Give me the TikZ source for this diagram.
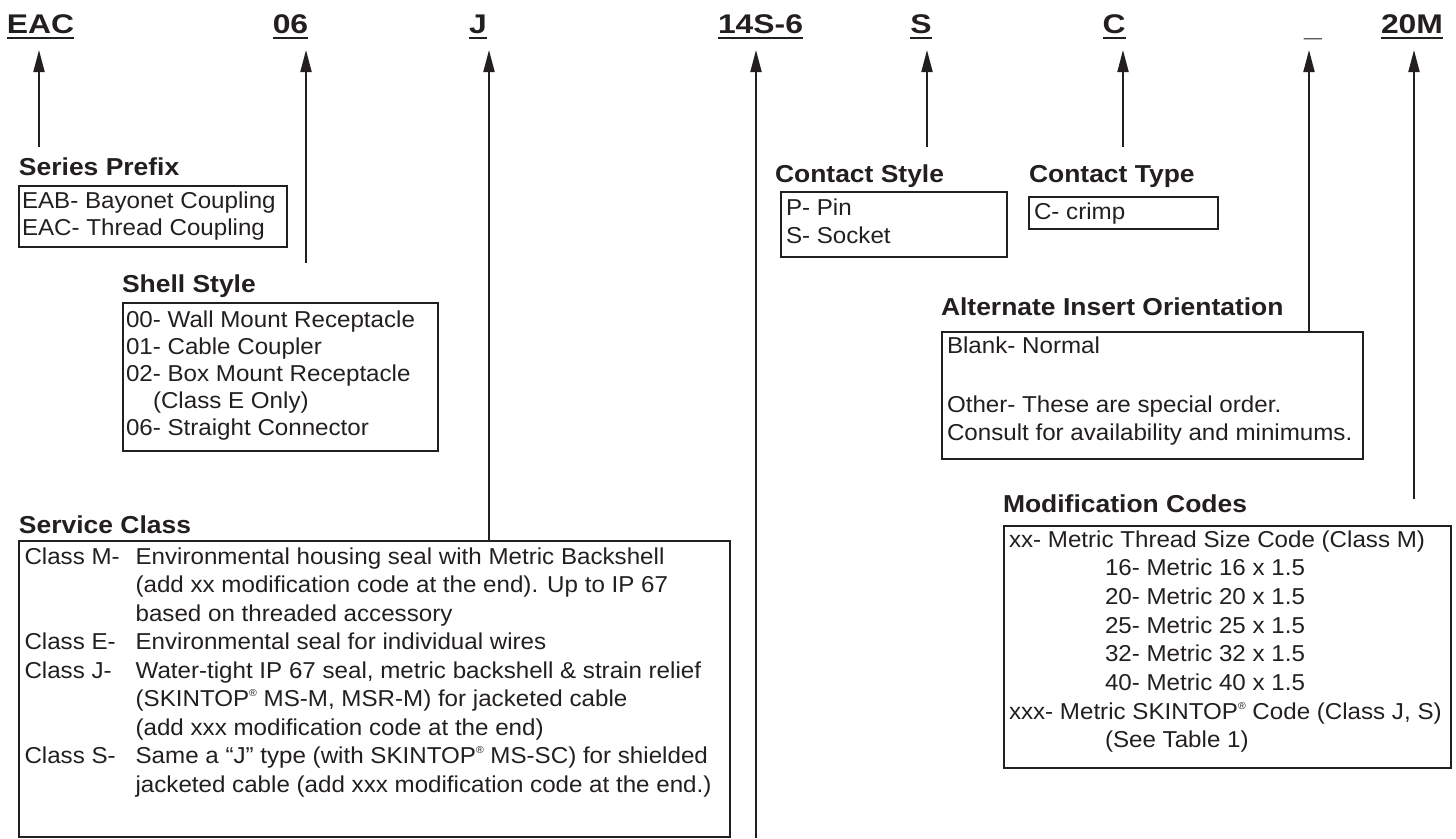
\documentclass[tikz,border=0pt]{standalone}
\usepackage{fontspec}
\setmainfont[FakeStretch=1.05]{Liberation Sans}
\newfontfamily\headfam[FakeStretch=1.08]{Liberation Sans}
\newfontfamily\lblfam[FakeStretch=1.18]{Liberation Sans}
\usetikzlibrary{arrows.meta}
\definecolor{ink}{RGB}{35,31,32}
\newcommand\regm{\raisebox{0.42em}{\fontsize{10}{10}\selectfont ®}}
\tikzset{
 txt/.style={inner sep=0pt, outer sep=0pt, anchor=base west, text=ink, font=\fontsize{23}{27}\selectfont},
 head/.style={inner sep=0pt, outer sep=0pt, anchor=base west, text=ink, font=\headfam\fontsize{24.5}{29}\selectfont\bfseries},
 lbl/.style={inner sep=0pt, outer sep=0pt, anchor=base, text=ink, font=\lblfam\fontsize{27}{31}\selectfont\bfseries},
 box/.style={draw=ink, line width=2pt, inner sep=0pt, outer sep=0pt, anchor=north west},
 arr/.style={draw=ink, line width=2pt, -{Triangle[length=22pt,width=11pt]}},
 ul/.style={draw=ink, line width=1.4pt},
}
\begin{document}
\begin{tikzpicture}[x=1pt, y=-1pt]
\useasboundingbox (0,0) rectangle (1456,838);
% ---- top code labels
\coordinate (ulY) at (0,38);
\coordinate (tipY) at (0,50);
\node[lbl] (eac) at (40.5,33) {EAC};
\node[lbl] (ss) at (290.5,33) {06};
\node[lbl] (sc) at (478,33) {J};
\node[lbl] (ins) at (760.5,33) {14S-6};
\node[lbl] (cs) at (921,33) {S};
\node[lbl] (ct) at (1114,33) {C};
\node[lbl, anchor=south] (alt) at (1313,39.5) {\_};
\node[lbl] (mod) at (1412,33) {20M};
\foreach \n in {eac,ss,sc,ins,cs,ct,mod}{\draw[ul] (\n.west |- ulY) -- (\n.east |- ulY);}
% ---- boxes
\node[box, minimum width=268pt, minimum height=61pt] (spBox) at (19,186) {};
\node[box, minimum width=315pt, minimum height=148pt] (shBox) at (123,303) {};
\node[box, minimum width=711pt, minimum height=296pt] (scBox) at (19,541) {};
\node[box, minimum width=226pt, minimum height=65pt] (csBox) at (781,192) {};
\node[box, minimum width=189pt, minimum height=32pt] (ctBox) at (1029,197) {};
\node[box, minimum width=421pt, minimum height=127pt] (aoBox) at (942,332) {};
\node[box, minimum width=447pt, minimum height=242pt] (mcBox) at (1004,526) {};
% ---- headings
\node[head] (spH) at (19,175) {Series Prefix};
\node[head] (shH) at (122,292) {Shell Style};
\node[head] (scH) at (19,533) {Service Class};
\node[head] (csH) at (775,182) {Contact Style};
\node[head] (ctH) at (1029,182) {Contact Type};
\node[head] (aoH) at (941,315) {Alternate Insert Orientation};
\node[head] (mcH) at (1003,512) {Modification Codes};
% ---- series prefix
\node[txt] (sp1) at (22,208) {EAB- Bayonet Coupling};
\node[txt] (sp2) at (22,235) {EAC- Thread Coupling};
% ---- shell style
\node[txt] (sh1) at (126,327) {00- Wall Mount Receptacle};
\node[txt] (sh2) at (126,354) {01- Cable Coupler};
\node[txt] (sh3) at (126,381) {02- Box Mount Receptacle};
\node[txt] (sh4) at (153,408) {(Class E Only)};
\node[txt] (sh5) at (126,435) {06- Straight Connector};
% ---- service class
\node[txt] (sc1a) at (24.5,564) {Class M-};
\node[txt] (sc1) at (135.6,564) {Environmental housing seal with Metric Backshell};
\node[txt] (sc2) at (135.6,592.5) {(add xx modification code at the end). Up to IP 67};
\node[txt] (sc3) at (135.6,621) {based on threaded accessory};
\node[txt] (sc4a) at (24.5,649.5) {Class E-};
\node[txt] (sc4) at (135.6,649.5) {Environmental seal for individual wires};
\node[txt] (sc5a) at (24.5,678) {Class J-};
\node[txt] (sc5) at (135.6,678) {Water-tight IP 67 seal, metric backshell \& strain relief};
\node[txt] (sc6) at (135.6,706.5) {(SKINTOP\regm{} MS-M, MSR-M) for jacketed cable};
\node[txt] (sc7) at (135.6,735) {(add xxx modification code at the end)};
\node[txt] (sc8a) at (24.5,763.5) {Class S-};
\node[txt] (sc8) at (135.6,763.5) {Same a “J” type (with SKINTOP\regm{} MS-SC) for shielded};
\node[txt] (sc9) at (135.6,792) {jacketed cable (add xxx modification code at the end.)};
% ---- contact style / type
\node[txt] (cs1) at (786,215) {P- Pin};
\node[txt] (cs2) at (786,243) {S- Socket};
\node[txt] (ct1) at (1034,219) {C- crimp};
% ---- alternate insert orientation
\node[txt] (ao1) at (947,353) {Blank- Normal};
\node[txt] (ao2) at (947,412) {Other- These are special order.};
\node[txt] (ao3) at (947,440) {Consult for availability and minimums.};
% ---- modification codes
\node[txt] (mc1) at (1009,547) {xx- Metric Thread Size Code (Class M)};
\node[txt] (mc2) at (1105,575.7) {16- Metric 16 x 1.5};
\node[txt] (mc3) at (1105,604.4) {20- Metric 20 x 1.5};
\node[txt] (mc4) at (1105,633.1) {25- Metric 25 x 1.5};
\node[txt] (mc5) at (1105,661.8) {32- Metric 32 x 1.5};
\node[txt] (mc6) at (1105,690.5) {40- Metric 40 x 1.5};
\node[txt] (mc7) at (1009,719.2) {xxx- Metric SKINTOP\regm{} Code (Class J, S)};
\node[txt] (mc8) at (1105,747.9) {(See Table 1)};
% ---- connectors
\coordinate (eacF) at (39,147);
\coordinate (ssF) at (306,263);
\coordinate (scF) at (489,0);
\coordinate (insF) at (756,838);
\coordinate (csF) at (927,147);
\coordinate (ctF) at (1123,147);
\coordinate (altF) at (1309,0);
\coordinate (modF) at (1414,499);
\draw[arr] (eacF) -- (eacF |- tipY);
\draw[arr] (ssF) -- (ssF |- tipY);
\draw[arr] (scF |- scBox.north) -- (scF |- tipY);
\draw[arr] (insF) -- (insF |- tipY);
\draw[arr] (csF) -- (csF |- tipY);
\draw[arr] (ctF) -- (ctF |- tipY);
\draw[arr] (altF |- aoBox.north) -- (altF |- tipY);
\draw[arr] (modF) -- (modF |- tipY);
\end{tikzpicture}
\end{document}
